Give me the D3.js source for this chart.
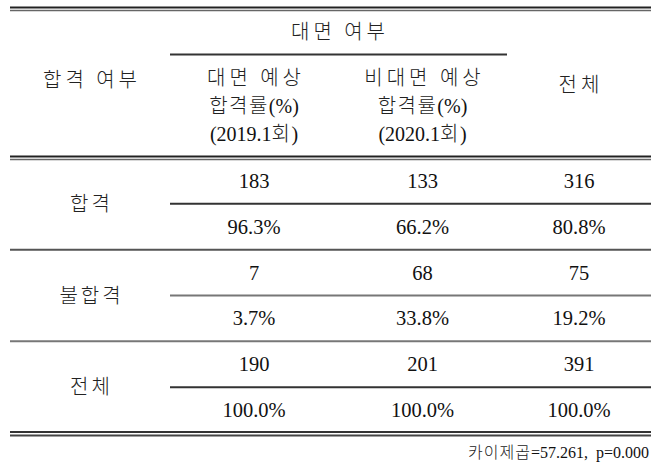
<!DOCTYPE html>
<html>
<head>
<meta charset="utf-8">
<script src="https://cdn.jsdelivr.net/npm/d3@7"></script>
<style>
  body { margin: 0; background: #fff; }
  text { font-family: "Liberation Serif", "Noto Sans CJK KR", serif; fill: #111; }
  tspan.ko { font-family: "Noto Sans CJK KR", sans-serif; font-weight: 300; fill: #222; }
</style>
</head>
<body>
<div id="table"></div>
<script>
// data
var groupTitle = "대면 여부";
var rowHeader = "합격 여부";
var colHeaders = [
  ["대면 예상", "합격률(%)", "(2019.1회)"],
  ["비대면 예상", "합격률(%)", "(2020.1회)"],
  ["전체"]
];
var rowLabels = ["합격", "불합격", "전체"];
var counts = [
  [183, 133, 316],
  [7, 68, 75],
  [190, 201, 391]
];
var percents = [
  [96.3, 66.2, 80.8],
  [3.7, 33.8, 19.2],
  [100.0, 100.0, 100.0]
];
var footnote = "카이제곱=57.261,  p=0.000";

var svgwidth = 670;
var svgheight = 471;

var svg = d3.select("#table").append("svg")
  .attr("width", svgwidth)
  .attr("height", svgheight);

// column edges
var colEdges = [10, 170, 338, 507, 651];
var colMid = function(i) { return (colEdges[i] + colEdges[i + 1]) / 2; };

var yrow = d3.scaleBand()
  .domain(rowLabels)
  .range([158, 433]);

function hline(x1, x2, y, color, w) {
  svg.append("line")
    .attr("x1", x1).attr("x2", x2)
    .attr("y1", y).attr("y2", y)
    .attr("stroke", color)
    .attr("stroke-width", w);
}

// writes text, hangul runs get their own tspan with wider spacing
function label(x, y, str, size, spacing, anchor) {
  var t = svg.append("text")
    .attr("x", x).attr("y", y)
    .attr("text-anchor", anchor || "middle")
    .attr("font-size", size + "px");
  var parts = str.match(/[\uAC00-\uD7A3 ]+|[^\uAC00-\uD7A3 ]+/g);
  parts.forEach(function(p, k) {
    var isKo = /[\uAC00-\uD7A3]/.test(p);
    var ts = t.append("tspan").text(p);
    if (isKo) {
      ts.attr("class", "ko").attr("letter-spacing", spacing);
    }
  });
  return t;
}

// top double rule
hline(colEdges[0], colEdges[4], 7.5, "#222", 2);
hline(colEdges[0], colEdges[4], 10.5, "#666", 1.5);
// group rule
hline(colEdges[1], colEdges[3], 54.5, "#333", 2);
// header double rule
hline(colEdges[0], colEdges[4], 156.5, "#222", 2);
hline(colEdges[0], colEdges[4], 159.5, "#666", 1.5);

// header text
label(colEdges[2] + 2, 39, groupTitle, 20, 4);
label(colMid(0) + 2, 87, rowHeader, 20, 4);

colHeaders.forEach(function(lines, j) {
  var n = lines.length;
  lines.forEach(function(line, k) {
    label(colMid(j + 1) + (k === 0 ? 2 : 0), n === 1 ? 92 : 85 + k * 28, line, 20, k === 0 || n === 1 ? 4 : 1.5);
  });
});

// body rows
rowLabels.forEach(function(r, i) {
  var top = yrow(r);
  var bh = yrow.bandwidth();

  label(colMid(0) + 1.5, top + bh / 2 + 7, r, 20, 3);

  // middle rule (partial)
  hline(colEdges[1], colEdges[4], top + bh / 2, i === 1 ? "#777" : "#333", 2);

  counts[i].forEach(function(v, j) {
    svg.append("text")
      .attr("x", colMid(j + 1)).attr("y", top + bh / 4 + 7)
      .attr("text-anchor", "middle")
      .attr("font-size", "20.5px")
      .text(v);
  });
  percents[i].forEach(function(v, j) {
    svg.append("text")
      .attr("x", colMid(j + 1)).attr("y", top + bh * 3 / 4 + 7)
      .attr("text-anchor", "middle")
      .attr("font-size", "20.5px")
      .text(d3.format(".1f")(v) + "%");
  });

  // row bottom rule
  if (i < rowLabels.length - 1) {
    hline(colEdges[0], colEdges[4], top + bh, i === 1 ? "#777" : "#555", 2);
  }
});

// bottom double rule
hline(colEdges[0], colEdges[4], 432, "#333", 2);
hline(colEdges[0], colEdges[4], 435.5, "#444", 2);

// footnote
label(colEdges[4] - 2, 458, footnote, 16, 1, "end")
  .style("white-space", "pre");
</script>
</body>
</html>
